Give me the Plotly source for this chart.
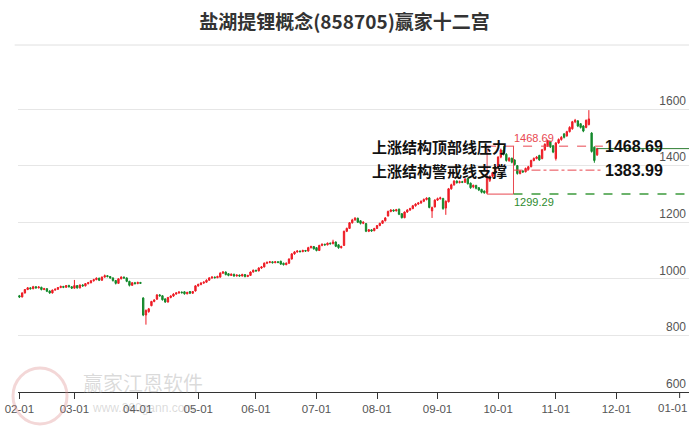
import numpy as np
import pandas as pd
import plotly.graph_objects as go

# ---------------- data (weekday slots starting 2021-02-01) ----------------
open_ = [
    940, 936, 950, 962, 968, 965, 972, 968, 970, 962, 965, 957, 950, 960, 963, 969, 973, 970, 976, 972,
    967, 976, 968, 978, 975, 983, 986, 993, 997, 1002, 995, 1006, 1011, 1008, 1003, 994, 984, 1000, 1006, 1003,
    991, 977, 986, 983, 987, 932, 872, 884, 905, 920, 928, 943, 940, 929, 918, 934, 939, 946, 950, 953,
    954, 947, 955, 949, 957, 975, 980, 985, 988, 995, 1003, 1006, 1004, 1006, 1020, 1024, 1018, 1012, 1016, 1010,
    1013, 1010, 1015, 1008, 1012, 1024, 1030, 1028, 1038, 1042, 1055, 1058, 1060, 1057, 1060, 1062, 1055, 1050, 1055, 1070,
    1088, 1095, 1098, 1096, 1100, 1098, 1110, 1114, 1110, 1100, 1118, 1122, 1120, 1126, 1124, 1130, 1120, 1110, 1118, 1168,
    1178, 1198, 1208, 1214, 1205, 1196, 1195, 1168, 1173, 1170, 1178, 1188, 1196, 1205, 1222, 1238, 1243, 1240, 1246, 1230,
    1216, 1236, 1243, 1248, 1258, 1264, 1268, 1274, 1280, 1286, 1240, 1254, 1278, 1283, 1284, 1250, 1272, 1318, 1332, 1345,
    1340, 1343, 1341, 1354, 1338, 1325, 1330, 1322, 1316, 1310, 1305, 1348, 1362, 1375, 1395, 1430, 1455, 1440, 1418, 1426,
    1420, 1400, 1372, 1381, 1378, 1386, 1396, 1418, 1425, 1436, 1425, 1456, 1470, 1485, 1470, 1425, 1480, 1492, 1512, 1505,
    1520, 1530, 1555, 1558, 1548, 1540, 1535, 1545, 1515, 1465, 1438,
]
close = [
    936, 950, 962, 968, 965, 972, 968, 971, 962, 965, 956, 950, 960, 963, 969, 973, 970, 976, 972, 967,
    976, 968, 978, 975, 983, 986, 993, 997, 1002, 995, 1006, 1011, 1008, 1003, 994, 984, 1000, 1006, 1003, 991,
    977, 986, 983, 987, 984, 872, 888, 894, 920, 925, 943, 940, 926, 918, 934, 939, 946, 950, 953, 951,
    947, 952, 949, 955, 975, 980, 985, 988, 995, 1003, 1006, 1004, 1008, 1020, 1024, 1015, 1012, 1016, 1010, 1013,
    1010, 1015, 1008, 1012, 1024, 1030, 1028, 1038, 1042, 1055, 1058, 1060, 1057, 1060, 1058, 1052, 1050, 1055, 1070, 1088,
    1095, 1098, 1096, 1100, 1098, 1110, 1114, 1106, 1100, 1118, 1122, 1120, 1126, 1124, 1130, 1115, 1110, 1114, 1168, 1178,
    1198, 1208, 1214, 1200, 1196, 1200, 1168, 1173, 1169, 1178, 1188, 1196, 1205, 1215, 1238, 1243, 1240, 1244, 1228, 1216,
    1236, 1243, 1248, 1258, 1264, 1268, 1274, 1280, 1285, 1252, 1252, 1278, 1283, 1286, 1248, 1274, 1318, 1332, 1345, 1340,
    1343, 1341, 1352, 1336, 1322, 1330, 1320, 1314, 1306, 1304, 1360, 1362, 1375, 1395, 1430, 1455, 1440, 1418, 1426, 1412,
    1404, 1372, 1381, 1378, 1390, 1396, 1418, 1425, 1430, 1420, 1456, 1475, 1488, 1466, 1448, 1480, 1492, 1500, 1500, 1520,
    1535, 1555, 1560, 1540, 1535, 1522, 1560, 1565, 1450, 1418, 1460,
]
high = [
    943, 952, 964, 971, 970, 975, 974, 974, 972, 968, 967, 959, 962, 966, 971, 976, 975, 978, 979, 974,
    996, 978, 980, 981, 985, 989, 995, 1000, 1005, 1004, 1008, 1015, 1013, 1010, 1005, 996, 1002, 1009, 1008, 1005,
    993, 988, 989, 990, 989, 935, 892, 897, 922, 928, 946, 946, 942, 931, 936, 942, 949, 953, 956, 955,
    956, 954, 957, 957, 977, 983, 988, 991, 998, 1006, 1009, 1008, 1011, 1023, 1027, 1026, 1020, 1019, 1018, 1016,
    1015, 1018, 1017, 1014, 1026, 1033, 1032, 1041, 1045, 1058, 1061, 1063, 1062, 1063, 1062, 1064, 1057, 1058, 1072, 1091,
    1098, 1101, 1100, 1103, 1102, 1113, 1117, 1116, 1112, 1120, 1125, 1124, 1128, 1128, 1138, 1132, 1122, 1117, 1170, 1181,
    1200, 1212, 1218, 1216, 1207, 1203, 1197, 1176, 1175, 1180, 1190, 1198, 1207, 1218, 1241, 1246, 1245, 1247, 1248, 1232,
    1238, 1246, 1251, 1261, 1267, 1271, 1277, 1284, 1288, 1288, 1255, 1281, 1287, 1290, 1286, 1277, 1321, 1336, 1349, 1348,
    1347, 1346, 1356, 1357, 1340, 1333, 1332, 1324, 1318, 1312, 1362, 1365, 1378, 1398, 1433, 1460, 1468.69, 1444, 1430, 1428,
    1422, 1402, 1384, 1384, 1393, 1399, 1421, 1429, 1434, 1438, 1459, 1479, 1492, 1488, 1473, 1483, 1496, 1504, 1515, 1523,
    1539, 1558, 1565, 1561, 1550, 1543, 1563, 1596, 1518, 1468, 1463,
]
low = [
    932, 934, 948, 960, 962, 963, 965, 966, 959, 960, 953, 947, 948, 958, 961, 967, 967, 968, 969, 964,
    965, 965, 966, 972, 973, 980, 984, 990, 995, 992, 993, 1004, 1005, 1000, 990, 980, 982, 998, 1000, 988,
    973, 975, 980, 981, 982, 868, 838, 880, 903, 917, 926, 937, 923, 915, 916, 931, 936, 944, 947, 948,
    944, 945, 946, 947, 955, 972, 977, 982, 986, 993, 1000, 1001, 1002, 1004, 1017, 1012, 1009, 1010, 1007, 1008,
    1007, 1008, 1005, 1006, 1010, 1022, 1025, 1026, 1035, 1040, 1052, 1055, 1054, 1055, 1055, 1049, 1047, 1048, 1053, 1068,
    1085, 1092, 1093, 1094, 1095, 1096, 1107, 1103, 1097, 1098, 1115, 1117, 1118, 1121, 1122, 1112, 1106, 1107, 1116, 1165,
    1176, 1195, 1205, 1197, 1192, 1193, 1165, 1165, 1166, 1168, 1176, 1186, 1194, 1203, 1220, 1235, 1237, 1238, 1225, 1213,
    1214, 1233, 1240, 1246, 1255, 1261, 1265, 1271, 1277, 1249, 1215, 1252, 1275, 1280, 1244, 1226, 1270, 1315, 1329, 1336,
    1337, 1338, 1339, 1333, 1318, 1320, 1316, 1310, 1302, 1300.5, 1299.29, 1342, 1358, 1372, 1392, 1426, 1436, 1414, 1413, 1408,
    1400, 1368, 1369, 1374, 1376, 1383, 1394, 1415, 1422, 1417, 1422, 1452, 1466, 1462, 1444, 1418, 1477, 1488, 1496, 1502,
    1517, 1527, 1550, 1536, 1531, 1518, 1532, 1542, 1446, 1410, 1434,
]

# structure levels (上涨结构)
top_level = 1468.69      # 顶部线压力
warn_level = 1383.99     # 警戒线支撑
base_level = 1299.29     # 结构低点
box_slots = [170, 179.6]  # box from the structure low to the confirmation bar
line_end_slot = 212.1

month_starts = ["2021-02-01", "2021-03-01", "2021-04-01", "2021-05-01", "2021-06-01", "2021-07-01",
                "2021-08-01", "2021-09-01", "2021-10-01", "2021-11-01", "2021-12-01", "2022-01-01"]
tick_labels = ["02-01", "03-01", "04-01", "05-01", "06-01", "07-01",
               "08-01", "09-01", "10-01", "11-01", "12-01", "01-01"]
y_ticks = [600, 800, 1000, 1200, 1400, 1600]

# ---------------- axis helpers ----------------
slots = pd.bdate_range("2021-02-01", "2022-01-31")
x = np.arange(len(close))
tick_vals = [int(slots.searchsorted(pd.Timestamp(d))) for d in month_starts]

X_MIN, X_MAX = -0.51, 243.4
Y_MIN, Y_MAX = 600, 1737.8
PLOT_H = 427 - 70 - 35

UP, DOWN = "#ee1c25", "#14892c"
AXIS_FONT = dict(family="Liberation Sans", size=11.5, color="#555555")

fig = go.Figure()
fig.add_trace(go.Candlestick(
    x=x, open=open_, high=high, low=low, close=close,
    increasing=dict(line=dict(color=UP, width=1), fillcolor=UP),
    decreasing=dict(line=dict(color=DOWN, width=1), fillcolor=DOWN),
    whiskerwidth=0, showlegend=False, hoverinfo="skip",
))

shapes = []
bx0, bx1 = box_slots
RED = "#e8474f"
shapes.append(dict(type="line", x0=bx0, x1=bx0, y0=base_level, y1=top_level, xref="x", yref="y",
                   line=dict(color=RED, width=1)))
shapes.append(dict(type="line", x0=bx1, x1=bx1, y0=base_level, y1=top_level, xref="x", yref="y",
                   line=dict(color=RED, width=1)))
shapes.append(dict(type="line", x0=bx0, x1=bx1, y0=base_level, y1=base_level, xref="x", yref="y",
                   line=dict(color=RED, width=1)))
shapes.append(dict(type="line", x0=bx0, x1=line_end_slot, y0=top_level, y1=top_level, xref="x", yref="y",
                   line=dict(color=RED, width=1, dash="dash")))
shapes.append(dict(type="line", x0=bx1, x1=line_end_slot, y0=warn_level, y1=warn_level, xref="x", yref="y",
                   line=dict(color=RED, width=1, dash="dashdot")))
shapes.append(dict(type="line", x0=bx1, x1=X_MAX, y0=base_level, y1=base_level, xref="x", yref="y",
                   line=dict(color="#3c9a3c", width=1.5, dash="dash")))
shapes.append(dict(type="line", x0=x[-1], x1=X_MAX, y0=close[-1], y1=close[-1], xref="x", yref="y",
                   line=dict(color="#2e7d32", width=1)))
# last month tick (its label sits at the chart edge, which plotly's axis drops)
shapes.append(dict(type="line", x0=tick_vals[-1], x1=tick_vals[-1], y0=0, y1=-6 / PLOT_H,
                   xref="x", yref="paper", line=dict(color="#333333", width=1)))
# separator under title
shapes.append(dict(type="line", x0=-0.005, x1=1.0, y0=(392 - 45) / PLOT_H, y1=(392 - 45) / PLOT_H,
                   xref="paper", yref="paper", line=dict(color="#e0e0e0", width=1)))
# watermark logo
shapes.append(dict(type="circle", xref="paper", yref="paper",
                   x0=(13 - 18) / 671, x1=(67 - 18) / 671, y0=(392 - 424) / PLOT_H, y1=(392 - 368) / PLOT_H,
                   line=dict(color="rgba(220,140,140,0.35)", width=3)))

annotations = []
big_font = dict(family="Noto Sans CJK SC", size=15, color="#111111")
num_font = dict(family="Liberation Sans", size=16, color="#111111")
annotations.append(dict(x=bx1, y=top_level, xref="x", yref="y", text="<b>上涨结构顶部线压力</b>",
                        showarrow=False, xanchor="right", yanchor="middle", xshift=-4, font=big_font))
annotations.append(dict(x=bx1, y=warn_level, xref="x", yref="y", text="<b>上涨结构警戒线支撑</b>",
                        showarrow=False, xanchor="right", yanchor="middle", xshift=-4, font=big_font))
annotations.append(dict(x=line_end_slot, y=top_level, xref="x", yref="y", text="<b>%.2f</b>" % top_level,
                        showarrow=False, xanchor="left", yanchor="middle", font=num_font))
annotations.append(dict(x=line_end_slot, y=warn_level, xref="x", yref="y", text="<b>%.2f</b>" % warn_level,
                        showarrow=False, xanchor="left", yanchor="middle", font=num_font))
annotations.append(dict(x=bx1, y=top_level, xref="x", yref="y", text="%.2f" % top_level,
                        showarrow=False, xanchor="left", yanchor="bottom", xshift=-1,
                        font=dict(family="Liberation Sans", size=11, color=RED)))
annotations.append(dict(x=bx1, y=base_level, xref="x", yref="y", text="%.2f" % base_level,
                        showarrow=False, xanchor="left", yanchor="top", xshift=-1,
                        font=dict(family="Liberation Sans", size=11, color="#2e8b2e")))
# label of the last month tick, kept inside the chart edge
annotations.append(dict(x=1.0, y=0, xref="paper", yref="paper", text=tick_labels[-1],
                        showarrow=False, xanchor="right", yanchor="top", yshift=-8, xshift=0,
                        font=AXIS_FONT))
annotations.append(dict(x=(143 - 18) / 671, y=(392 - 382) / PLOT_H, xref="paper", yref="paper", text="赢家江恩软件",
                        showarrow=False, xanchor="center", yanchor="middle",
                        font=dict(family="Noto Sans CJK SC", size=20, color="rgba(150,150,150,0.35)")))
annotations.append(dict(x=(143 - 18) / 671, y=(392 - 408) / PLOT_H, xref="paper", yref="paper", text="www.360gann.com",
                        showarrow=False, xanchor="center", yanchor="middle",
                        font=dict(family="Liberation Sans", size=12, color="rgba(150,150,150,0.35)")))

fig.update_layout(
    width=689, height=427,
    margin=dict(l=18, r=0, t=70, b=35),
    paper_bgcolor="white", plot_bgcolor="white",
    title=dict(text="<b>盐湖提锂概念(858705)赢家十二宫</b>", x=0.5, xanchor="center",
               y=1 - 22 / 427, yanchor="middle", yref="container",
               font=dict(family="Noto Sans CJK SC", size=19, color="#333333")),
    xaxis=dict(range=[X_MIN, X_MAX], tickmode="array", tickvals=tick_vals, ticktext=tick_labels,
               anchor="free", position=0, automargin=False,
               showgrid=False, zeroline=False, showline=True, linecolor="#333333", linewidth=1,
               ticks="outside", ticklen=6, tickcolor="#333333", ticklabeloverflow="allow",
               tickfont=AXIS_FONT, rangeslider=dict(visible=False), fixedrange=True),
    yaxis=dict(range=[Y_MIN, Y_MAX], side="right", tickmode="array", tickvals=y_ticks, automargin=False,
               ticklabelposition="inside top", showgrid=True, gridcolor="#e6e6e6", gridwidth=1,
               zeroline=False, showline=False, ticks="",
               tickfont=dict(family="Liberation Sans", size=12, color="#555555"), fixedrange=True),
    shapes=shapes, annotations=annotations,
    showlegend=False,
)

fig.write_html("out.html", config={"displayModeBar": False},
               post_script="document.body.style.margin='0';document.body.style.overflow='hidden';")
